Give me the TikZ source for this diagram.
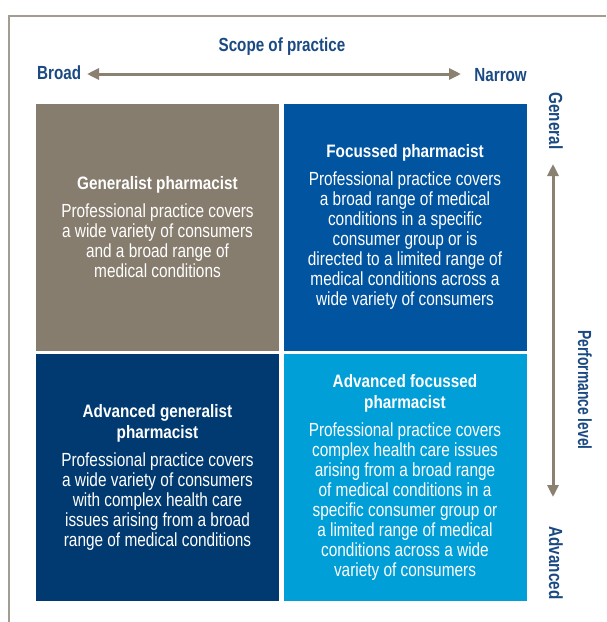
\documentclass[tikz,border=0pt]{standalone}
\usepackage{fontspec}
\setmainfont{Liberation Sans}
\newfontfamily\bodyf{Liberation Sans}[FakeStretch=0.81]
\newfontfamily\ttlf{Liberation Sans}[FakeStretch=0.85]
\newfontfamily\labf{Liberation Sans}[FakeStretch=0.8]
\newfontfamily\perff{Liberation Sans}[FakeStretch=0.73]
\usetikzlibrary{arrows.meta}
\definecolor{tlc}{HTML}{877D6E}
\definecolor{trc}{HTML}{0054A0}
\definecolor{blc}{HTML}{003A70}
\definecolor{brc}{HTML}{009FD8}
\definecolor{labc}{HTML}{1B4A83}
\definecolor{arrc}{HTML}{8A8171}
\definecolor{framec}{HTML}{A39C90}
\tikzset{
  box/.style={minimum width=243pt, minimum height=247pt, inner sep=0pt, align=center, text=white,
    font=\bodyf\fontsize{19}{20}\selectfont},
  lab/.style={text=labc, font=\labf\bfseries\fontsize{19}{20}\selectfont, inner sep=0pt},
  arr/.style={draw=arrc, line width=3pt, {Triangle[length=12pt,width=11pt]}-{Triangle[length=12pt,width=11pt]}},
}
\newcommand{\ttl}[1]{{\ttlf\bfseries\fontsize{18}{21}\selectfont #1}}
\begin{document}
\begin{tikzpicture}[x=1pt,y=-1pt]
\useasboundingbox (0,0) rectangle (606,622);
\fill[white] (0,0) rectangle (606,622);
\draw[framec, line width=1.3pt] (9,622) -- (9,16) -- (606,16);

\node[lab] (scope) at (282,47) {Scope of practice};
\node[lab, anchor=west] (broad) at (37,73) {Broad};
\node[lab, anchor=east] (narrow) at (527,75) {Narrow};
\coordinate (hl) at (87,74);
\coordinate (hr) at (461,74);
\draw[arr] (hl) -- (hr);

\node[lab, rotate=-90] (general) at (556,121) {General};
\node[lab, rotate=-90, font=\perff\bfseries\fontsize{19}{20}\selectfont] (perf) at (585,390) {Performance level};
\node[lab, rotate=-90] (adv) at (556,563) {Advanced};
\coordinate (vt) at (553,164);
\coordinate (vb) at (553,497);
\draw[arr] (vt) -- (vb);

\node[box, fill=tlc] (tl) at (157.5,227) {\ttl{Generalist pharmacist}\\[8pt]
Professional practice covers\\ a wide variety of consumers\\ and a broad range of\\ medical conditions};
\node[box, fill=trc] (tr) at (405,227) {\ttl{Focussed pharmacist}\\[8pt]
Professional practice covers\\ a broad range of medical\\ conditions in a specific\\ consumer group or is\\ directed to a limited range of\\ medical conditions across a\\ wide variety of consumers};
\node[box, fill=blc] (bl) at (157.5,477.5) {\ttl{Advanced generalist}\\[1pt] \ttl{pharmacist}\\[8pt]
Professional practice covers\\ a wide variety of consumers\\ with complex health care\\ issues arising from a broad\\ range of medical conditions};
\node[box, fill=brc] (br) at (405,477.5) {\ttl{Advanced focussed}\\[1pt] \ttl{pharmacist}\\[8pt]
Professional practice covers\\ complex health care issues\\ arising from a broad range\\ of medical conditions in a\\ specific consumer group or\\ a limited range of medical\\ conditions across a wide\\ variety of consumers};
\end{tikzpicture}
\end{document}
